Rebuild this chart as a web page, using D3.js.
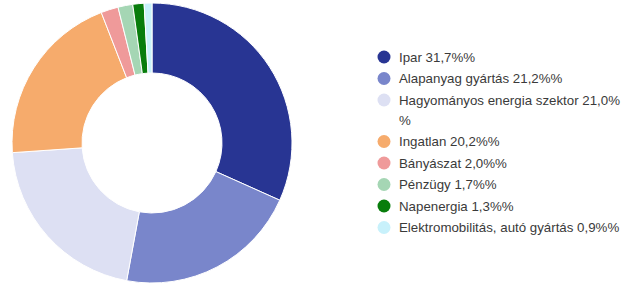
<!DOCTYPE html>
<html>
<head>
<meta charset="utf-8">
<script src="https://cdn.jsdelivr.net/npm/d3@7"></script>
<style>
  body { margin: 0; background: #fff; }
</style>
</head>
<body>
<svg id="chart"></svg>
<script>
const width = 633, height = 284;

// data
const labels = ["Ipar", "Alapanyag gyártás", "Hagyományos energia szektor", "Ingatlan", "Bányászat", "Pénzügy", "Napenergia", "Elektromobilitás, autó gyártás"];
const values = [31.7, 21.2, 21.0, 20.2, 2.0, 1.7, 1.3, 0.9];
const colors = ["#283593", "#7986cb", "#dde0f3", "#f6ab6c", "#ef9a9a", "#a5d6b4", "#087d0c", "#c8f1fb"];

const svg = d3.select("#chart")
  .attr("width", width)
  .attr("height", height);

const data = labels.map((l, i) => ({ label: l, value: values[i], color: colors[i] }));

const pie = d3.pie().sort(null).value(d => d.value);
const arc = d3.arc().innerRadius(70).outerRadius(140);

const g = svg.append("g").attr("transform", "translate(152,143)");

g.selectAll("path")
  .data(pie(data))
  .join("path")
  .attr("d", arc)
  .style("fill", d => d.data.color)
  .style("stroke", "#fff")
  .style("stroke-width", 1);

// legend
const legend = svg.append("g").attr("transform", "translate(384,57)");
const maxW = 224;
let y = 0;

function addText(y, s) {
  return legend.append("text")
    .attr("x", 15)
    .attr("y", y)
    .attr("dominant-baseline", "central")
    .style("font-family", "Liberation Sans, Arial, sans-serif")
    .style("font-size", "13.3px")
    .style("fill", "#3a3a3a")
    .text(s);
}

data.forEach(function (d) {
  const txt = d.label + " " + d.value.toFixed(1).replace(".", ",") + "%%";
  legend.append("circle")
    .attr("cx", 0)
    .attr("cy", y)
    .attr("r", 6.5)
    .style("fill", d.color);

  const t = addText(y, txt);

  // wrap long labels onto a second line
  if (t.node().getComputedTextLength() > maxW) {
    let cut = txt.length;
    while (cut > 0 && t.text(txt.slice(0, cut)).node().getComputedTextLength() > maxW) cut--;
    t.text(txt.slice(0, cut));
    y += 20;
    addText(y, txt.slice(cut));
  }
  y += 21.5;
});
</script>
</body>
</html>
